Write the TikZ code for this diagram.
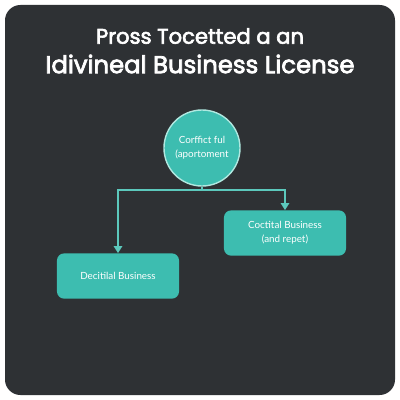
\documentclass[tikz,border=0pt]{standalone}
\usepackage{fontspec}
\setmainfont{Lato}
\newfontfamily\titlefont{Poppins}[FakeBold=3]
\usetikzlibrary{positioning,arrows.meta}

\definecolor{slate}{HTML}{2E3134}
\definecolor{teal}{HTML}{3DBDB0}
\definecolor{tealline}{HTML}{5CC8BC}
\definecolor{tealrim}{HTML}{B0E8E0}

\begin{document}
\begin{tikzpicture}[x=0.025cm, y=-0.025cm]
            \tikzstyle{title}   = [text=white]
            \tikzstyle{hub}     = [circle, fill=teal, draw=tealrim, line width=1pt, minimum size=1.9cm, align=center, text=white, font=\fontsize{7}{10}\selectfont]
            \tikzstyle{branch}  = [rectangle, rounded corners=5pt, fill=teal, minimum width=3.05cm, minimum height=1.13cm, align=center, text=white, font=\fontsize{7}{10}\selectfont]
            \tikzstyle{link}    = [draw=tealline, line width=1.1pt]

            % background
            \useasboundingbox (0,0) rectangle (400,400);
            \fill[white] (0,0) rectangle (400,400);
            \fill[slate, rounded corners=11pt] (5,5) rectangle (395,395);

            % title
            \node[title, font=\titlefont\fontsize{15}{17}\selectfont] (title1) at (200,36) {Pross Tocetted a an};
            \node[title, font=\titlefont\fontsize{17.3}{19}\selectfont] (title2) at (200,64) {Idivineal Business License};

            \node[hub] (hub) at (202,148) {Corffict ful\\(aportoment};
            \coordinate (split) at (202,190);

            \node[branch] (decitilal) at (118,276) {Decitilal Business};
            \node[branch] (coctital) at (285,233) {Coctital Business\\(and repet)};

            \draw[link] (hub) -- (split);
            \draw[link, -{Triangle[width=6pt,length=5pt]}] (split) -| (decitilal.north);
            \draw[link, -{Triangle[width=6pt,length=5pt]}] (split) -| (coctital.north);
        \end{tikzpicture}
\end{document}
